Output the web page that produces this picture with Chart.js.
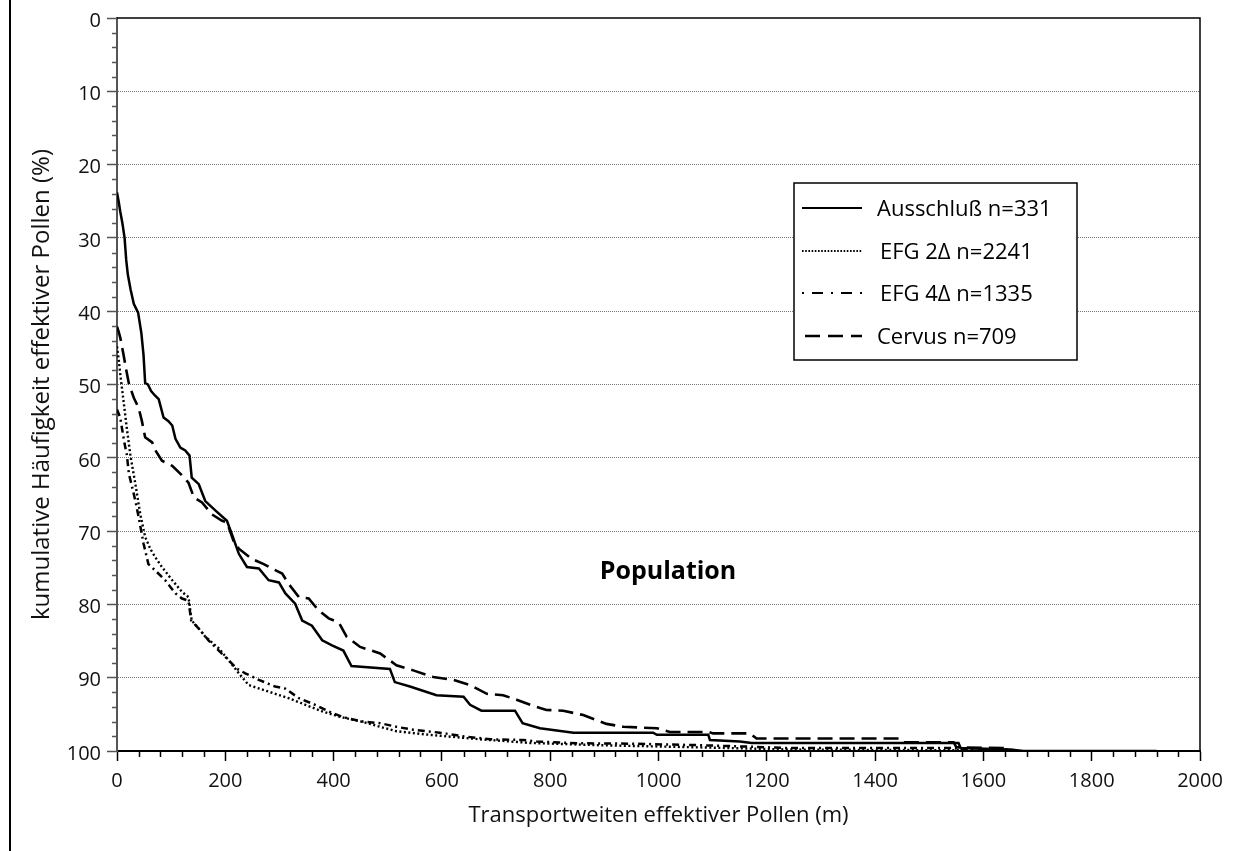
<!DOCTYPE html>
<html><head><meta charset="utf-8">
<script src="https://cdn.jsdelivr.net/npm/chart.js@4"></script>
<style>html,body{margin:0;padding:0;background:#fff;}canvas{display:block;}</style>
</head><body>
<canvas id="c" width="1247" height="851"></canvas>
<script>
// ---- data (distance in m, cumulative frequency in %) ----
const ausX = [0,3,6,10,14,17,20,25,31,39,45,49,52,57,63,70,77,86,95,102,108,117,126,134,138,151,163,182,203,212,225,240,262,280,299,311,329,342,360,379,397,418,433,504,513,541,590,640,652,673,735,749,781,843,990,997,1092,1095,1150,1172,1554,1558,1649,1674,1920];
const ausY = [23.8,25,26.4,28,30,33,35,37,39,40.2,43,46,49.8,50,50.9,51.5,52,54.5,55,55.6,57.4,58.6,59,59.7,62.7,63.6,65.9,67.2,68.6,70.4,73.1,74.9,75.1,76.7,77,78.5,79.9,82.2,82.9,84.9,85.6,86.3,88.4,88.8,90.6,91.2,92.4,92.6,93.7,94.5,94.5,96.2,96.9,97.5,97.5,97.8,97.8,98.5,98.7,98.9,98.9,99.6,99.8,100,100];

const efg2X = [0,3,6,12,18,25,34,43,52,62,71,83,102,120,132,138,150,163,188,206,225,243,280,317,348,379,415,452,486,516,578,670,763,886,1009,1132,1243,1550,1650];
const efg2Y = [44.8,46.5,48.6,52.2,55.9,59.8,63.6,67.7,70.8,72.5,73.6,74.9,76.7,78.3,79,82.2,83.2,84.4,86,87.6,89.4,91,91.9,92.8,93.7,94.6,95.4,96,96.7,97.3,97.8,98.4,98.9,99.2,99.4,99.6,99.8,99.9,100];

const efg4X = [0,6,9,14,18,22,28,34,40,49,58,71,89,108,120,132,137,151,169,188,206,222,237,262,292,311,336,366,391,418,455,486,516,547,596,640,689,750,775,855,947,1071,1163,1243,1548,1552,1650,1660];
const efg4Y = [53.4,54.5,55.9,58.1,59.5,62.2,64,65.9,68.1,71.7,74.5,75.4,76.7,78.5,79.2,79.5,82.2,83.3,84.9,86.3,87.6,88.8,89.4,90.3,91.2,91.5,92.8,93.7,94.6,95.4,96,96.2,96.7,97.1,97.5,98,98.4,98.5,98.7,98.95,99,99.2,99.4,99.6,99.6,99.8,99.8,100];

const cerX = [0,3,6,12,17,22,31,40,46,52,65,71,83,102,120,132,142,157,175,194,203,215,225,249,271,286,305,317,336,354,372,391,410,424,449,486,516,547,584,621,652,683,713,738,763,793,824,861,904,935,997,1021,1092,1101,1169,1181,1446,1452,1545,1550,1640,1645];
const cerY = [42.1,42.8,43.6,45.9,48,49.9,51.8,53.2,55,57.2,57.9,59,60.4,61.1,62.4,63.4,65.4,66.1,67.7,68.6,68.8,71.3,72.4,73.8,74.5,75.1,75.8,77.2,79,79.2,80.8,81.9,82.5,84.4,85.8,86.7,88.3,89,89.9,90.3,91,92.2,92.4,93,93.7,94.4,94.5,95.1,96.3,96.7,96.9,97.4,97.4,97.6,97.6,98.3,98.3,98.8,98.8,99.5,99.6,100];

const seriesNames = ['Ausschluß n=331','EFG 2\u0394 n=2241','EFG 4\u0394 n=1335','Cervus n=709'];
const xTickValues = [0,200,400,600,800,1000,1200,1400,1600,1800,2000];
const yTickValues = [0,10,20,30,40,50,60,70,80,90,100];
const xMinorStep = 40;
const yMinorStep = 2;
const annotationText = 'Population';

// ---- drawing ----
const FONT = "'Open Sans', 'DejaVu Sans', sans-serif";
const toPts = (xs, ys) => xs.map((x, i) => ({x: x, y: ys[i]}));

const styles = [
  {w: 2.5, dash: []},
  {w: 2.4, dash: [2, 2.5]},
  {w: 2.5, dash: [7, 4, 2, 4]},
  {w: 2.6, dash: [15, 7]}
];
const seriesData = [toPts(ausX, ausY), toPts(efg2X, efg2Y), toPts(efg4X, efg4Y), toPts(cerX, cerY)];

const datasets = seriesData.map((d, i) => ({
  label: seriesNames[i],
  data: d,
  borderColor: '#000',
  backgroundColor: '#000',
  borderWidth: styles[i].w,
  borderDash: styles[i].dash,
  showLine: true,
  fill: false,
  pointRadius: 0,
  tension: 0,
  order: 4 - i
}));

const decor = {
  id: 'decor',
  afterDraw(chart) {
    const ctx = chart.ctx;
    const a = chart.chartArea;
    const xs = chart.scales.x, ys = chart.scales.y;
    ctx.save();
    // left page border
    ctx.strokeStyle = '#000'; ctx.lineWidth = 2;
    ctx.beginPath(); ctx.moveTo(10, 0); ctx.lineTo(10, chart.height); ctx.stroke();
    // plot frame top & right
    ctx.lineWidth = 1.5;
    ctx.beginPath(); ctx.moveTo(a.left, a.top); ctx.lineTo(a.right, a.top); ctx.lineTo(a.right, a.bottom); ctx.stroke();
    // minor ticks
    ctx.lineWidth = 1.5;
    ctx.strokeStyle = '#000';
    for (let v = xMinorStep; v < 2000; v += xMinorStep) {
      if (v % 200 === 0) continue;
      const p = Math.round(xs.getPixelForValue(v)) + 0.5;
      ctx.beginPath(); ctx.moveTo(p, a.bottom); ctx.lineTo(p, a.bottom + 6); ctx.stroke();
    }
    ctx.strokeStyle = '#555';
    for (let v = yMinorStep; v < 100; v += yMinorStep) {
      if (v % 10 === 0) continue;
      const p = Math.round(ys.getPixelForValue(v)) + 0.5;
      ctx.beginPath(); ctx.moveTo(a.left - 5, p); ctx.lineTo(a.left, p); ctx.stroke();
    }
    // annotation
    ctx.fillStyle = '#000';
    ctx.font = "bold 25px " + FONT;
    ctx.textAlign = 'center'; ctx.textBaseline = 'alphabetic';
    ctx.fillText(annotationText, 668, 579);
    // legend box
    const bx = 794, by = 183, bw = 283, bh = 177;
    ctx.fillStyle = '#fff';
    ctx.fillRect(bx, by, bw, bh);
    ctx.strokeStyle = '#000'; ctx.lineWidth = 1.5;
    ctx.strokeRect(bx, by, bw, bh);
    const rows = [208, 251, 293, 336];
    const textX = [877, 880, 880, 877];
    const legDash = [[], [1.6, 1.6], [2, 8, 11, 8], [15, 8]];
    const legW = [2.2, 2, 2.2, 2.4];
    const legStart = [802, 802, 802, 805];
    rows.forEach((ry, i) => {
      ctx.save();
      ctx.strokeStyle = '#000';
      ctx.lineWidth = legW[i];
      ctx.setLineDash(legDash[i]);
      ctx.beginPath(); ctx.moveTo(legStart[i], ry); ctx.lineTo(862, ry); ctx.stroke();
      ctx.restore();
      ctx.fillStyle = '#000';
      ctx.font = "22px " + FONT;
      ctx.textAlign = 'left'; ctx.textBaseline = 'alphabetic';
      ctx.fillText(seriesNames[i], textX[i], ry + 8);
    });
    ctx.restore();
  }
};

function draw() {
  new Chart(document.getElementById('c'), {
    type: 'scatter',
    data: {datasets: datasets},
    plugins: [decor],
    options: {
      responsive: false,
      animation: false,
      devicePixelRatio: 1,
      layout: {padding: {top: 16, right: 47, left: 0, bottom: 0}},
      plugins: {legend: {display: false}, tooltip: {enabled: false}},
      scales: {
        x: {
          type: 'linear', min: 0, max: 2000,
          afterBuildTicks: s => { s.ticks = xTickValues.map(v => ({value: v})); },
          afterFit: s => { s.height = 100; },
          grid: {drawOnChartArea: false, drawTicks: true, tickLength: 10, tickColor: '#000', tickWidth: 1.5},
          border: {display: true, color: '#000', width: 2},
          ticks: {font: {family: FONT, size: 20}, color: '#111', padding: 8, maxRotation: 0, autoSkip: false, callback: v => String(v)},
          title: {display: true, text: 'Transportweiten effektiver Pollen (m)', font: {family: FONT, size: 22}, color: '#111', padding: {top: 0, bottom: 22}}
        },
        y: {
          type: 'linear', min: 0, max: 100, reverse: true,
          afterBuildTicks: s => { s.ticks = yTickValues.map(v => ({value: v})); },
          afterFit: s => { s.width = 117; },
          grid: {
            color: c => { const v = c.tick ? c.tick.value : 0; return (v > 0 && v < 100) ? '#777' : 'rgba(0,0,0,0)'; },
            lineWidth: 1, tickLength: 10, tickColor: '#555', tickWidth: 1.5
          },
          border: {display: true, color: '#555', width: 2, dash: [1, 1]},
          ticks: {font: {family: FONT, size: 20}, color: '#111', padding: 6, autoSkip: false, labelOffset: 3, callback: v => String(v)},
          title: {display: true, text: 'kumulative Häufigkeit effektiver Pollen (%)', font: {family: FONT, size: 24}, color: '#111', padding: {top: 28, bottom: 0}}
        }
      }
    }
  });
}
if (document.fonts && document.fonts.load) {
  document.fonts.load("20px 'Open Sans'").then(draw, draw);
} else { draw(); }
</script>
</body></html>
